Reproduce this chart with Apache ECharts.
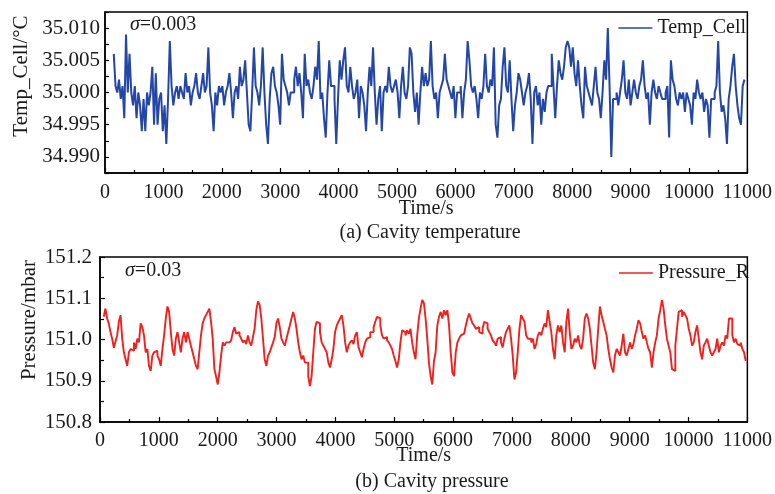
<!DOCTYPE html>
<html>
<head>
<meta charset="utf-8">
<script src="https://cdn.jsdelivr.net/npm/echarts@6/dist/echarts.min.js"></script>
<style>
  html, body { margin: 0; padding: 0; background: #fff; }
  #main { width: 775px; height: 494px; }
</style>
</head>
<body>
<div id="main"></div>
<script>
// 温度：每30s一个采样点，从150s开始
var tempT0 = 150, tempDT = 30;
var tempCell = [
  35.006,35.001,35.000,35.002,34.999,35.001,34.996,35.009,35.000,35.006,
  35.000,34.998,35.001,34.996,35.000,34.998,34.994,34.999,34.994,35.000,
  34.998,35.000,35.004,34.995,35.003,34.995,34.999,35.000,34.994,34.998,
  34.992,34.999,35.008,35.001,34.998,35.000,35.001,34.999,35.001,35.000,
  34.999,35.003,35.000,35.001,34.998,35.000,35.001,35.003,35.000,34.999,
  35.001,35.003,35.000,35.001,35.007,35.000,34.998,34.994,35.000,34.998,
  35.001,35.000,35.001,34.998,35.000,35.001,35.003,35.000,34.996,35.000,
  35.001,34.999,35.004,35.001,35.002,35.005,35.000,34.995,34.994,35.000,
  35.007,35.001,35.000,34.998,35.001,35.007,35.000,34.995,34.992,34.999,
  35.003,35.004,35.001,35.000,34.998,34.995,35.006,35.002,35.001,35.000,
  34.998,35.000,35.000,35.002,35.004,35.001,35.003,35.000,34.996,35.006,
  35.001,35.002,35.000,34.999,35.001,35.004,35.002,35.008,34.999,35.000,
  34.996,34.993,35.000,35.005,35.001,35.001,34.999,34.992,34.999,35.005,
  35.002,35.005,35.007,35.001,35.000,35.004,35.001,34.999,35.000,35.002,
  34.996,35.001,35.000,34.998,34.994,35.000,35.004,35.001,35.007,35.000,
  34.995,34.999,35.001,34.994,35.000,35.001,35.000,35.004,35.001,35.000,
  35.001,35.002,35.000,34.996,35.001,35.004,35.000,34.999,35.001,35.007,
  35.006,35.000,34.997,35.000,34.995,35.000,35.004,35.001,35.003,35.001,
  35.002,35.008,35.001,34.999,35.000,34.996,35.000,35.001,35.002,35.006,
  35.002,35.001,35.000,34.999,35.001,34.996,35.000,35.000,35.001,34.996,
  35.000,35.002,35.008,35.005,35.001,35.000,35.001,34.999,34.996,35.000,
  34.999,35.001,35.006,35.001,35.000,35.002,35.001,35.007,34.995,34.993,
  34.998,34.999,35.004,35.007,35.001,35.000,35.005,34.999,34.994,34.998,
  35.000,35.003,35.002,35.000,34.998,35.000,35.001,35.003,34.999,34.992,
  35.000,35.001,34.998,35.000,34.995,34.999,34.997,35.000,35.001,35.001,
  35.006,35.001,34.996,35.001,35.005,35.003,35.002,35.004,35.007,35.008,
  35.007,35.004,35.007,35.003,35.001,35.005,35.001,34.998,34.996,35.004,
  35.001,35.000,34.999,34.998,35.001,35.004,35.000,34.999,34.996,35.000,
  35.005,35.002,35.010,35.001,34.990,34.999,34.999,35.000,34.998,35.000,
  35.002,35.005,35.000,34.999,35.002,34.998,35.000,35.002,35.000,34.999,
  35.001,35.002,35.005,35.001,34.999,35.000,34.995,35.000,35.002,35.000,
  34.999,35.001,35.000,34.999,34.999,35.000,35.001,34.993,35.005,35.002,
  35.001,34.999,34.998,35.000,34.999,35.000,34.997,35.000,34.999,34.998,
  34.995,35.000,34.999,35.002,35.000,34.999,35.000,34.997,34.999,34.998,
  34.993,34.999,34.999,35.000,35.001,35.008,35.000,34.997,34.998,34.996,
  34.992,34.999,35.001,35.004,35.006,35.001,34.998,34.996,34.995,35.001,35.002
];

// 压力：约28.5s一个采样点
var presT0 = 64, presDT = 28.48;
var pressureR = [
  151.055,151.075,151.051,151.039,151.018,151.002,150.980,150.995,151.010,151.043,
  151.059,151.002,150.969,150.952,150.936,150.969,150.977,150.973,150.993,150.977,
  151.002,150.993,151.039,151.030,151.010,150.969,150.977,150.936,150.924,150.961,
  150.969,150.973,150.961,150.952,150.936,150.977,151.010,151.051,151.080,151.067,
  151.018,150.977,150.961,151.002,151.018,150.993,150.969,151.002,151.018,150.993,
  151.018,151.002,150.985,150.969,150.952,150.936,150.928,150.969,151.010,151.039,
  151.051,151.059,151.067,151.075,151.043,151.002,150.928,150.911,150.891,150.920,
  150.961,150.993,150.985,150.993,150.993,150.993,150.998,151.018,151.030,151.014,
  151.018,151.010,151.002,150.993,150.998,150.989,151.010,150.993,150.985,151.006,
  151.026,151.071,151.092,151.084,151.051,151.002,150.952,150.936,150.961,150.969,
  150.981,150.993,151.006,151.039,151.051,151.030,151.002,150.993,150.985,151.002,
  151.018,151.034,151.051,151.067,151.051,151.026,150.993,150.969,150.952,150.961,
  150.944,150.944,150.911,150.887,
  150.911,150.969,151.026,151.043,151.039,151.018,150.993,150.985,150.977,150.969,
  150.944,150.932,150.952,150.977,151.018,151.034,151.043,151.051,151.059,151.034,
  150.993,150.969,150.985,150.993,150.998,150.989,151.010,151.018,150.981,150.969,
  150.957,150.977,150.993,151.002,151.006,151.018,151.018,151.030,151.043,151.055,
  151.051,151.034,151.010,151.002,151.006,150.998,150.993,150.985,150.977,150.961,
  150.948,150.932,150.952,150.993,151.022,151.018,151.010,151.022,151.014,151.026,
  150.993,150.969,150.952,151.010,151.051,151.075,151.096,151.088,151.051,151.002,
  150.944,150.911,150.891,150.948,150.969,151.034,151.055,151.067,151.051,151.071,
  151.059,151.071,151.034,150.969,150.920,150.911,150.969,150.993,151.002,151.010,
  151.014,151.018,151.034,151.051,151.063,151.051,151.039,151.034,151.026,151.030,
  151.018,151.014,151.026,151.043,151.039,151.026,151.018,151.010,150.998,150.993,
  150.985,151.002,151.006,150.993,150.981,151.002,151.018,151.026,151.034,151.002,
  150.961,150.903,150.920,150.969,151.026,151.059,151.051,151.043,151.010,151.002,
  151.002,150.993,
  151.002,150.977,150.989,151.010,151.018,151.010,151.026,151.039,151.030,151.071,
  151.043,151.018,150.977,150.952,151.010,151.034,151.018,151.034,150.993,150.969,
  151.043,151.075,151.018,150.977,150.985,151.002,150.993,151.010,150.985,150.977,
  151.002,151.051,151.063,151.051,151.026,150.985,150.944,150.928,150.969,151.026,
  151.080,151.059,151.043,151.026,151.010,150.977,150.952,150.932,150.920,150.961,
  150.977,150.969,150.961,150.985,151.014,150.969,150.961,150.977,150.993,150.977,
  150.989,151.010,151.026,151.047,151.039,151.018,151.002,151.010,150.993,150.977,
  150.969,150.932,150.969,150.993,151.010,151.051,151.071,151.096,151.075,151.034,
  151.002,150.985,150.969,150.928,150.924,150.985,151.026,151.067,151.071,151.055,
  151.067,151.059,151.051,151.026,151.010,150.985,150.993,151.018,151.034,151.002,
  150.969,150.952,150.985,150.993,151.002,150.985,150.969,150.961,150.969,150.977,
  151.002,150.969,150.985,150.993,150.985,151.010,151.002,151.051,151.051,151.010,
  150.993,151.002,150.989,150.985,150.993,150.977,150.969,150.948
];

var BLUE = "#2446a6";
var RED = "#f0201e";
var FONT = "Liberation Serif";
var TXT = "#1a1a1a";

var tempPts = tempCell.map(function (v, i) { return [tempT0 + i * tempDT, v]; });
var presPts = pressureR.map(function (v, i) { return [presT0 + i * presDT, v]; });

var myChart = echarts.init(document.getElementById("main"), null, { renderer: "canvas" });

function xAxisOf(gridIndex, labelMargin, nameGap) {
  return {
    type: "value",
    gridIndex: gridIndex,
    min: 0,
    max: 11000,
    interval: 1000,
    name: "Time/s",
    nameLocation: "middle",
    nameGap: nameGap,
    nameMoveOverlap: false,
    nameTextStyle: { fontFamily: FONT, fontSize: 20, color: TXT },
    axisLine: { show: true, lineStyle: { color: "#000", width: 1.5 } },
    axisTick: { show: true, inside: true, length: 5, lineStyle: { color: "#000", width: 1.2 } },
    minorTick: { show: true, splitNumber: 2, length: 3, lineStyle: { color: "#000", width: 1.2 } },
    axisLabel: {
      fontFamily: FONT, fontSize: 20, color: TXT, margin: labelMargin,
      formatter: function (v) { return String(v); }
    },
    splitLine: { show: false }
  };
}

function legendOf(name, right, top) {
  return {
    data: [{ name: name, icon: "rect" }],
    right: right, top: top, itemWidth: 34, itemHeight: 1.5, itemGap: 5,
    textStyle: { fontFamily: FONT, fontSize: 20, color: TXT }, padding: 0
  };
}

var option = {
  animation: false,
  grid: [
    { left: 105, right: 25, top: 12, height: 161, show: true, borderColor: "#000", borderWidth: 1.5 },
    { left: 100, right: 27, top: 257, height: 165, show: true, borderColor: "#000", borderWidth: 1.5 }
  ],
  xAxis: [xAxisOf(0, 10, 26), xAxisOf(1, 9, 24)],
  yAxis: [
    {
      type: "value",
      gridIndex: 0,
      min: 34.9875,
      max: 35.0125,
      interval: 0.0025,
      axisLine: { show: true, lineStyle: { color: "#000", width: 1.5 } },
      axisTick: { show: true, inside: true, length: 4, lineStyle: { color: "#000", width: 1.2 } },
      axisLabel: {
        fontFamily: FONT, fontSize: 21, color: TXT, margin: 5,
        formatter: function (v) {
          var k = Math.round(v * 10000);
          return k % 50 === 0 ? (k / 10000).toFixed(3) : "";
        }
      },
      splitLine: { show: false }
    },
    {
      type: "value",
      gridIndex: 1,
      min: 150.8,
      max: 151.2,
      interval: 0.1,
      axisLine: { show: true, lineStyle: { color: "#000", width: 1.5 } },
      axisTick: { show: true, inside: true, length: 5, lineStyle: { color: "#000", width: 1.2 } },
      minorTick: { show: true, splitNumber: 2, length: 4, lineStyle: { color: "#000", width: 1.2 } },
      axisLabel: {
        fontFamily: FONT, fontSize: 21, color: TXT, margin: 8,
        formatter: function (v) { return v.toFixed(1); }
      },
      splitLine: { show: false }
    }
  ],
  legend: [legendOf("Temp_Cell", 29, 18), legendOf("Pressure_R", 26, 263)],
  graphic: [
    {
      type: "text", x: 130, y: 25,
      style: {
        text: "{i|σ}=0.003", fontFamily: FONT, fontSize: 20, fill: TXT,
        verticalAlign: "middle", textVerticalAlign: "middle",
        rich: { i: { fontStyle: "italic", fontFamily: FONT, fontSize: 20, color: TXT } }
      }
    },
    {
      type: "text", x: 125, y: 271,
      style: {
        text: "{i|σ}=0.03", fontFamily: FONT, fontSize: 20, fill: TXT,
        verticalAlign: "middle", textVerticalAlign: "middle",
        rich: { i: { fontStyle: "italic", fontFamily: FONT, fontSize: 20, color: TXT } }
      }
    },
    {
      type: "text", x: 21, y: 76, rotation: Math.PI / 2,
      style: {
        text: "Temp_Cell/°C", fontFamily: FONT, fontSize: 21, fill: TXT,
        align: "center", verticalAlign: "middle", textAlign: "center", textVerticalAlign: "middle"
      }
    },
    {
      type: "text", x: 29, y: 320, rotation: Math.PI / 2,
      style: {
        text: "Pressure/mbar", fontFamily: FONT, fontSize: 21, fill: TXT,
        align: "center", verticalAlign: "middle", textAlign: "center", textVerticalAlign: "middle"
      }
    },
    {
      type: "text", x: 430, y: 233,
      style: {
        text: "(a) Cavity temperature", fontFamily: FONT, fontSize: 20, fill: TXT,
        align: "center", verticalAlign: "middle", textAlign: "center", textVerticalAlign: "middle"
      }
    },
    {
      type: "text", x: 432, y: 482,
      style: {
        text: "(b) Cavity pressure", fontFamily: FONT, fontSize: 20, fill: TXT,
        align: "center", verticalAlign: "middle", textAlign: "center", textVerticalAlign: "middle"
      }
    }
  ],
  series: [
    {
      name: "Temp_Cell",
      type: "line",
      xAxisIndex: 0,
      yAxisIndex: 0,
      step: "end",
      symbol: "none",
      lineStyle: { color: BLUE, width: 2 },
      itemStyle: { color: BLUE },
      data: tempPts
    },
    {
      name: "Pressure_R",
      type: "line",
      xAxisIndex: 1,
      yAxisIndex: 1,
      step: "end",
      symbol: "none",
      lineStyle: { color: RED, width: 1.9 },
      itemStyle: { color: RED },
      data: presPts
    }
  ]
};

myChart.setOption(option);
</script>
</body>
</html>
